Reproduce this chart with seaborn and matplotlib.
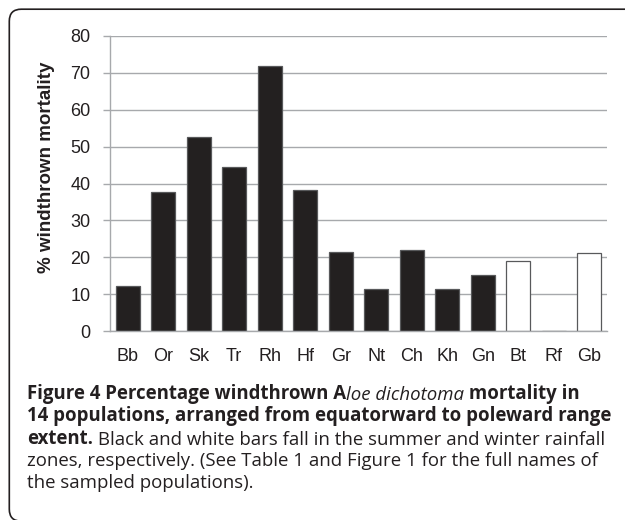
import matplotlib
matplotlib.use('Agg')
import matplotlib.pyplot as plt
from matplotlib.patches import FancyBboxPatch
from matplotlib.ticker import FixedLocator
import pandas as pd
import seaborn as sns

# DATA
populations = ['Bb', 'Or', 'Sk', 'Tr', 'Rh', 'Hf', 'Gr', 'Nt', 'Ch', 'Kh', 'Gn', 'Bt', 'Rf', 'Gb']
mortality = [12.2, 37.6, 52.5, 44.4, 71.9, 38.3, 21.3, 11.3, 22.1, 11.4, 15.1, 18.9, 0, 21.1]
zone = ['summer'] * 11 + ['winter'] * 3
y_ticks = [0, 10, 20, 30, 40, 50, 60, 70, 80]

df = pd.DataFrame({'population': populations, 'mortality': mortality, 'zone': zone})

sns.set_style('white')
plt.rcParams['font.family'] = ['Liberation Sans', 'DejaVu Sans']

ink = '#231f20'
grey = '#a7a9ac'

fig = plt.figure(figsize=(6.25, 5.2), dpi=100)
ax = fig.add_axes([110 / 625, 1 - 331 / 520, 497 / 625, 295 / 520])

sns.barplot(data=df, x='population', y='mortality', hue='zone',
            palette={'summer': ink, 'winter': 'white'}, dodge=False,
            width=0.68, edgecolor='#58595b', linewidth=0.9, legend=False, ax=ax)

ax.set_ylim(0, 80)
ax.set_xlim(-0.5, len(populations) - 0.5)
ax.set_yticks(y_ticks)
ax.yaxis.grid(True, color=grey, linewidth=1.0)
ax.set_axisbelow(True)
ax.xaxis.set_minor_locator(FixedLocator([i - 0.5 for i in range(len(populations) + 1)]))
ax.tick_params(axis='x', which='major', length=0, pad=12, labelsize=13, labelcolor=ink)
ax.tick_params(axis='x', which='minor', length=5, width=1, color=grey, direction='out')
ax.tick_params(axis='y', length=5, width=1, color=grey, direction='out', pad=9,
               labelsize=13, labelcolor=ink, left=True)
for s in ['top', 'right']:
    ax.spines[s].set_visible(False)
for s in ['left', 'bottom']:
    ax.spines[s].set_color(grey)
    ax.spines[s].set_linewidth(1.0)

ax.set_xlabel('')
ax.set_ylabel('% windthrown mortality', fontsize=13.5, fontweight='bold', color=ink)
ax.yaxis.set_label_coords(-0.111, 0.554)

# rounded frame
frame = FancyBboxPatch((0.093, -0.012), 6.4, 5.12, boxstyle='round,pad=0,rounding_size=0.12',
                       transform=fig.dpi_scale_trans, facecolor='none', edgecolor=ink, linewidth=1.2)
fig.add_artist(frame)

# caption
cap_font = ['Open Sans', 'DejaVu Sans']
cap_size = 13.4
x0 = 26.7 / 625
baselines = [399, 421.5, 444, 466, 488.5]


def piece(prev, text, weight='normal', style='normal'):
    return ax.annotate(text, xy=(1, 0), xycoords=prev, va='bottom', ha='left',
                       fontsize=cap_size, family=cap_font, fontweight=weight,
                       fontstyle=style, color=ink, annotation_clip=False)


def line(n, text, weight='normal'):
    return fig.text(x0, 1 - baselines[n] / 520, text, va='baseline', ha='left',
                    fontsize=cap_size, family=cap_font, fontweight=weight, color=ink)


t = line(0, 'Figure 4 Percentage windthrown A', 'bold')
t = piece(t, 'loe dichotoma', style='italic')
t = piece(t, ' mortality in', weight='bold')
line(1, '14 populations, arranged from equatorward to poleward range', 'bold')
t = line(2, 'extent.', 'bold')
piece(t, ' Black and white bars fall in the summer and winter rainfall')
line(3, 'zones, respectively. (See Table 1 and Figure 1 for the full names of')
line(4, 'the sampled populations).')

fig.savefig('out.png', dpi=100)
